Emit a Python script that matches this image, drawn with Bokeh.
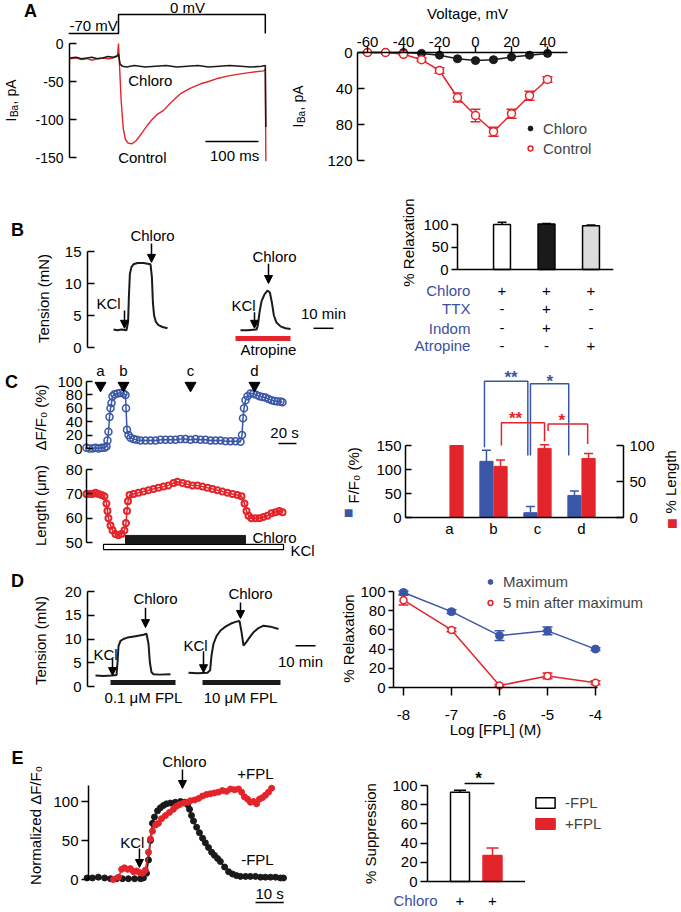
import math
from bokeh.plotting import figure
from bokeh.models import (Range1d, LinearAxis, Label, Arrow, NormalHead, Whisker, TeeHead,
                          ColumnDataSource, Legend, LegendItem, FixedTicker)
from bokeh.layouts import row, column
from bokeh.embed import file_html
from bokeh.resources import INLINE
from bokeh.core.properties import value

# ======================= DATA =======================
# A (left): Ba2+ current traces; time in ms, current in pA; voltage protocol in mV
a_prot_t = [-94, 0, 0, 277, 277]
a_prot_mv = [-70, -70, 0, 0, -70]
a_ctrl_t = [-92, -80, -70, -60, -50, -40, -30, -20, -10, -2, 0, 2, 5, 9, 13, 18, 25, 33, 42, 52,
            62, 72, 85, 100, 117, 135, 155, 170, 187, 205, 230, 250, 274, 277, 277.5, 278]
a_ctrl_pa = [-20, -19, -21, -20, -22, -20, -19, -20, -19, -17, 0, -30, -75, -112, -126, -131, -132, -128, -120, -110,
             -101, -94, -88, -77, -66, -59, -53, -50, -46, -43, -40, -38, -36, -34, -100, -155]
a_chl_t = [-92, -80, -70, -60, -50, -40, -30, -20, -10, -2, 0, 3, 8, 15, 30, 50, 70, 90, 110, 130,
           150, 170, 190, 210, 230, 250, 270, 277, 278]
a_chl_pa = [-19, -18, -20, -19, -18, -20, -19, -17, -18, -16, -14, -27, -30, -31, -29, -31, -30, -29, -31, -30,
            -29, -31, -30, -29, -30, -31, -30, -29, -110]

# A (right): I-V relation
iv_mv = [-60, -50, -40, -30, -20, -10, 0, 10, 20, 30, 40]
iv_chl = [0, 0, 0, 1, 3, 7, 9, 8, 5, 3, 1]
iv_chl_err = [0.5, 0.5, 0.5, 1, 1, 1.5, 1.5, 1.5, 1, 1, 1]
iv_ctrl = [0, 0, 2, 8, 20, 50, 70, 88, 68, 48, 30]
iv_ctrl_err = [0.5, 0.5, 1, 2, 3, 5, 7, 5, 5, 5, 3]

# B (left): tension traces; time in min, tension in mN
b1_t = [13, 15, 17, 19.5, 20.3, 20.7, 21.2, 22, 23, 25, 28, 31.5, 32.2, 32.7, 33.3, 34.2, 35.5, 37.5, 40]
b1_mn = [2.8, 2.7, 2.8, 2.7, 4, 8, 11.5, 12.6, 13.0, 13.2, 13.2, 13.0, 11, 7, 5, 4, 3.5, 3.2, 3.0]
b2_t = [76.5, 80, 84.5, 85.2, 86, 87, 88.5, 90, 91.2, 92.2, 93.2, 94.5, 96.5, 99, 101.5]
b2_mn = [2.7, 2.7, 2.8, 3.5, 5.5, 7.2, 8.3, 8.9, 8.6, 7, 5, 3.9, 3.3, 3.0, 2.9]

# B (right): % relaxation
b_bars = [1, 2, 3]
b_relax = [100, 101, 97]
b_relax_err = [5, 1, 2]
b_colors = ["white", "#1a1a1a", "#dcdcdc"]
b_rows = ["Chloro", "TTX", "Indom", "Atropine"]
b_signs = [["+", "+", "+"], ["-", "+", "-"], ["-", "+", "-"], ["-", "-", "+"]]

# C (left): Ca signal (dF/F0, %) and cell length (um) vs time (s)
c_f_t = [0, 3.3, 6.7, 10, 13.3, 16.7, 20, 22.2, 23.3, 24.4, 25.6, 26.7, 27.8, 28.9, 31.1, 34.4, 37.8, 41.1, 43.3, 43.9,
         45, 46.7, 48.9, 52.2, 55.6, 60, 65.6, 71.1, 76.7, 82.2, 87.8, 93.3, 98.9, 104.4, 110, 115.6, 121.1, 126.7,
         132.2, 137.8, 143.3, 148.9, 154.4, 160, 165.6, 171.1, 172.8, 173.9, 175, 176.7, 178.9, 182.2, 185.6, 188.9,
         192.2, 195.6, 198.9, 202.2, 205.6, 208.9, 212.2, 215.6, 217.8]
c_f_pct = [1, 0, 0, 1, 0, 1, 1, 3, 12, 25, 47, 60, 68, 78, 81, 82, 83, 82, 80, 60,
           28, 20, 16, 14, 13, 12, 12, 12, 12, 13, 13, 13, 13, 14, 14, 13, 14, 13,
           13, 12, 12, 12, 11, 11, 11, 10, 20, 45, 60, 72, 78, 82, 82, 80,
           78, 77, 76, 74, 72, 71, 70, 70, 69]
c_len_t = [0, 3.3, 6.7, 10, 13.3, 16.7, 20, 22.2, 23.3, 24.4, 26.7, 28.9, 32.2, 35.6, 38.9, 42.2, 43.9, 45, 46.1,
           47.8, 52.2, 57.8, 63.3, 68.9, 74.4, 80, 85.6, 91.1, 96.7, 101.1, 106.7, 112.2, 117.8, 123.3, 128.9,
           134.4, 140, 145.6, 151.1, 156.7, 162.2, 167.8, 172.2, 175.6, 177.8, 180, 183.3, 187.8, 192.2, 196.7,
           201.1, 205.6, 210, 214.4, 217.8]
c_len_um = [70, 70, 70, 70.5, 70, 69.5, 69, 66, 63, 60, 57, 55, 53.5, 53, 53.5, 55, 58, 63, 67,
            69.5, 70, 70.5, 71, 71.5, 72, 72.5, 73, 73.5, 74.5, 75, 74.5, 74, 73.5, 73.5, 73,
            72.5, 72, 71.5, 71, 70.5, 70, 69.5, 69, 66, 63, 61, 60, 60, 60, 60.5,
            61, 62, 62.5, 63, 62.5]
c_marks_t = [15.6, 41.1, 115.6, 186.7]
c_marks = ["a", "b", "c", "d"]
c_kcl = (18.9, 218.9)
c_chloro = (43.3, 176.7)

# C (right): summary bars
c_cat = [1, 2, 3, 4]
c_cat_lab = ["a", "b", "c", "d"]
c_f_cat = [2, 3, 4]
c_f_mean = [117, 10, 46]
c_f_err = [23, 13, 9]
c_len_mean = [100, 71, 96, 82]
c_len_err = [0, 9, 5, 7]

# D (left): tension traces with FPL
d1_t = [4, 8, 12, 14.5, 15, 15.5, 16.5, 18, 20, 24, 28, 29.5, 30.5, 31.2, 32, 33, 36, 41.5]
d1_mn = [2.3, 2.2, 2.3, 2.4, 5, 8.5, 9.6, 10.0, 10.3, 10.6, 10.9, 11.1, 9, 5, 3, 2.6, 2.5, 2.6]
d2_t = [50.5, 55, 60, 61.3, 62, 63, 64.5, 66.5, 69, 71.5, 74, 76, 77, 78, 79.5, 81.5, 83, 85.5, 88, 91.5, 95.5]
d2_mn = [2.9, 2.8, 2.9, 3.4, 6.5, 9.0, 10.6, 11.8, 12.6, 13.2, 13.6, 13.8, 11.5, 8.6, 9.4, 10.6, 11.4, 12.3, 12.8, 12.6, 12.1]

# D (right): relaxation vs log[FPL]
d_log = [-8, -7, -6, -5, -4]
d_max = [99, 79, 54, 59, 40]
d_max_err = [1.5, 2, 5, 4, 1.5]
d_after = [91, 60, 2, 12, 5]
d_after_err = [5, 2, 1, 3, 2]

# E (left): normalized dF/F0 traces (time, s)
e_m_t = [-0.5, 1.4, 3.5, 5.7, 7.8, 9.9, 12.0, 14.1, 16.3, 18.4, 19.4, 20.5, 21.2, 21.9, 22.6, 23.3, 24.4, 25.4, 26.5, 27.6,
         29.0, 30.7, 32.5, 33.9, 35.0, 35.7, 36.4, 37.1, 38.2, 39.2, 40.3, 41.3, 42.4, 43.5, 44.5, 45.6, 46.6, 48.1, 49.5,
         50.9, 52.3, 53.7, 55.5, 57.2, 59.0, 60.8, 62.5, 64.3, 66.1, 67.8, 68.9]
e_m_v = [2, 2, 3, 2, 1, 1, 1, 1, 1, 1, 2, 8, 25, 50, 72, 80, 88, 92, 95, 97,
         98, 99, 100, 99, 96, 90, 82, 75, 67, 60, 53, 47, 41, 35, 31, 27, 23, 16, 10,
         7, 5, 4, 4, 4, 4, 3, 3, 3, 3, 2, 2]
e_p_t = [8.8, 10.6, 11.7, 12.7, 13.8, 14.8, 15.9, 17.0, 18.0, 19.1, 20.1, 21.2, 21.9, 22.6, 23.7, 24.7, 25.8, 27.2,
         28.6, 30.0, 31.1, 32.2, 33.6, 35.0, 36.0, 37.5, 38.9, 40.3, 41.7, 43.1, 44.5, 45.9, 47.3, 48.8, 50.2, 51.6,
         53.0, 54.1, 55.1, 56.2, 57.2, 58.3, 59.4, 60.4, 61.5, 62.5, 63.6, 64.7]
e_p_v = [0, 3, 13, 15, 13, 14, 10, 11, 9, 8, 12, 35, 52, 62, 70, 72, 78, 82,
         86, 90, 94, 96, 98, 99, 101, 102, 104, 107, 109, 110, 111, 112, 114, 113, 116, 115,
         116, 112, 106, 103, 99, 100, 97, 103, 105, 108, 112, 117]

# E (right): % suppression
e_bars = [1, 2]
e_supp = [93, 27]
e_supp_err = [2, 8]

# ======================= STYLE / HELPERS =======================
FONT = "Liberation Sans"
RED = "#e3252b"
BLUE = "#3a56a6"
TBLUE = "#3b4fa1"
BLK = "#1a1a1a"
PI2 = math.pi / 2


def style_axis(ax, bounds, ticks, tin=0, tout=0, standoff=4, size=15, overrides=None):
    ax.bounds = bounds
    ax.ticker = FixedTicker(ticks=ticks)
    ax.major_tick_in = tin
    ax.major_tick_out = tout
    ax.minor_tick_line_color = None
    ax.major_label_standoff = standoff
    ax.major_label_text_font = FONT
    ax.major_label_text_font_size = f"{size}px"
    ax.major_label_text_color = "black"
    ax.axis_line_width = 1.5
    ax.axis_line_color = "black"
    ax.major_tick_line_width = 1.5
    ax.major_tick_line_color = "black" if (tin or tout) else None
    # plain hyphen-minus labels, as in the original figure
    ax.major_label_overrides = overrides if overrides else {t: str(t) for t in ticks}


class Panel:
    """A figure whose frame fills the whole figure; axes are drawn at fixed data locations."""

    def __init__(self, fx, fy, fw, fh, xm, ym):
        self.fl, self.ft, self.fb = fx, fy, fy + fh
        self.ax, self.bx = xm
        self.ay, self.by = ym
        self.p = figure(width=fw, height=fh, title=None,
                        x_range=Range1d(self.xd(fx), self.xd(fx + fw)),
                        y_range=Range1d(self.yd(fy + fh), self.yd(fy)),
                        x_axis_location=None, y_axis_location=None,
                        output_backend="svg", toolbar_location=None, min_border=0,
                        min_border_left=0, min_border_right=0, min_border_top=0, min_border_bottom=0)
        p = self.p
        p.outline_line_color = None
        p.grid.visible = False
        p.background_fill_color = "white"
        p.border_fill_color = "white"

    def xd(self, px):
        return (px - self.ax) / self.bx

    def yd(self, py):
        return (self.ay - py) / self.by

    def yaxis(self, px, bounds, ticks, side="left", y_range_name="default", **kw):
        a = LinearAxis(y_range_name=y_range_name, fixed_location=self.xd(px))
        style_axis(a, bounds, ticks, **kw)
        self.p.add_layout(a, side)
        return a

    def xaxis(self, py, bounds, ticks, side="below", **kw):
        a = LinearAxis(fixed_location=self.yd(py))
        style_axis(a, bounds, ticks, **kw)
        self.p.add_layout(a, side)
        return a

    def label(self, ix, iy, text, size=15, angle=0.0, align="center", baseline="middle",
              color="black", style="normal"):
        self.p.add_layout(Label(x=ix - self.fl, y=self.fb - iy, x_units="screen", y_units="screen",
                                text=text, angle=angle, text_align=align, text_baseline=baseline,
                                text_color=color, text_font=FONT, text_font_size=f"{size}px",
                                text_font_style=style))

    def text(self, xs, ys, texts, size=15, align="center", baseline="middle", color="black",
             y_range_name="default", style="normal"):
        self.p.text(x=xs, y=ys, text=texts, text_font=value(FONT), text_font_size=f"{size}px",
                    text_align=align, text_baseline=baseline, text_color=color,
                    text_font_style=style, y_range_name=y_range_name)

    def arrow(self, x, y0, y1):
        self.p.add_layout(Arrow(end=NormalHead(size=8, fill_color="black", line_color="black", line_width=1),
                                x_start=x, y_start=y0, x_end=x, y_end=y1,
                                line_width=1.5, line_color="black"))


def whisk(p, xs, lo, hi, color, size=10, y_range_name="default", lower=True):
    src = ColumnDataSource(dict(base=list(xs), lower=list(lo), upper=list(hi)))
    p.add_layout(Whisker(source=src, base="base", lower="lower", upper="upper", dimension="height",
                         line_color=color, line_width=1.5, y_range_name=y_range_name,
                         upper_head=TeeHead(size=size, line_color=color, line_width=1.5),
                         lower_head=TeeHead(size=size, line_color=color, line_width=1.5) if lower else None))


def iba_label(g, cx, ybottom, size):
    sub = round(size * 0.72)
    wI = 0.278 * size
    wBa = 1.223 * sub
    g.label(cx, ybottom, "I", size=size, angle=PI2, align="left")
    g.label(cx + 0.32 * size, ybottom - wI - 0.5, "Ba", size=sub, angle=PI2, align="left")
    g.label(cx, ybottom - wI - wBa - 1, ", pA", size=size, angle=PI2, align="left")


def pm(vals, errs, sign):
    return [v + sign * e for v, e in zip(vals, errs)]


# ======================= A left =======================
A = Panel(0, 0, 290, 178, (118, 0.53), (43, 0.76))
p = A.p
p.extra_y_ranges = {"v": Range1d((14 - 178) / 0.2714, (14 - 0) / 0.2714)}
p.line(a_prot_t, a_prot_mv, y_range_name="v", line_color="black", line_width=1.5)
p.line(a_ctrl_t, a_ctrl_pa, line_color=RED, line_width=1.4)
p.line(a_chl_t, a_chl_pa, line_color=BLK, line_width=1.6)
p.line([164, 264], [-129, -129], line_color="black", line_width=1.5)
A.text([-47, 130], [-40.5, 25.8], ["-70 mV", "0 mV"], y_range_name="v")
A.text([60, 45, 219], [-49, -150, -147], ["Chloro", "Control", "100 ms"])
A.yaxis(69, (-150, 0), [-150, -100, -50, 0], tin=7, standoff=6, size=14)
A.label(30, 10, "A", size=18, style="bold")
iba_label(A, 10, 121, 14)

# ======================= A right =======================
AR = Panel(290, 0, 391, 178, (475, 1.8), (52, -0.9))
p = AR.p
p.line(iv_mv, iv_chl, line_color=BLK, line_width=1.5)
whisk(p, iv_mv, pm(iv_chl, iv_chl_err, -1), pm(iv_chl, iv_chl_err, 1), BLK, size=8)
r_chl = p.scatter(iv_mv, iv_chl, marker="circle", size=8, fill_color=BLK, line_color=BLK)
p.line(iv_mv, iv_ctrl, line_color=RED, line_width=1.5)
whisk(p, iv_mv, pm(iv_ctrl, iv_ctrl_err, -1), pm(iv_ctrl, iv_ctrl_err, 1), RED, size=10)
r_ctl = p.scatter(iv_mv, iv_ctrl, marker="circle", size=8, fill_color="white", line_color=RED, line_width=1.5)
AR.xaxis(52, (AR.xd(357), AR.xd(567)), [-60, -40, -20, 0, 20, 40], side="above", tout=6, standoff=0)
AR.yaxis(357, (0, 120), [0, 40, 80, 120], tin=7, standoff=5)
leg = Legend(items=[LegendItem(label=value("Chloro"), renderers=[r_chl]),
                    LegendItem(label=value("Control"), renderers=[r_ctl])],
             location=(234, 20), orientation="vertical", glyph_width=12, glyph_height=20, label_height=20,
             label_standoff=7, spacing=0, padding=0, margin=0, border_line_color=None,
             background_fill_alpha=0, label_text_font=FONT, label_text_font_size="15px")
p.add_layout(leg)
AR.label(467, 13, "Voltage, mV")
iba_label(AR, 297, 127, 14)

# ======================= B left =======================
BL = Panel(0, 178, 350, 180, (87, 2.0), (347, 6.4))
p = BL.p
p.line(b1_t, b1_mn, line_color=BLK, line_width=2)
p.line(b2_t, b2_mn, line_color=BLK, line_width=2)
p.line([74, 101.5], [1.4, 1.4], line_color=RED, line_width=5)
p.line([113, 123], [3, 3], line_color="black", line_width=1.5)
BL.arrow(18.5, 5.8, 3.0)
BL.arrow(32, 16.25, 13.3)
BL.arrow(83.5, 5.5, 3.0)
BL.arrow(90.5, 13.1, 10.0)
BL.text([10.5, 32.5, 78, 93.5, 90.5, 118], [6.9, 17.5, 6.6, 14.2, -0.3, 5.3],
        ["KCl", "Chloro", "KCl", "Chloro", "Atropine", "10 min"])
BL.yaxis(87, (0, 15), [0, 5, 10, 15], tin=7, standoff=6)
BL.label(17, 229, "B", size=18, style="bold")
BL.label(43, 298, "Tension (mN)", angle=PI2)

# ======================= B right =======================
BR = Panel(350, 178, 331, 180, (457, 44.5), (269, 0.45))
p = BR.p
whisk(p, b_bars, pm(b_relax, b_relax_err, -1), pm(b_relax, b_relax_err, 1), "black", size=9)
p.vbar(x=b_bars, top=b_relax, width=0.38, fill_color=b_colors, line_color="black", line_width=1.5)
p.segment(x0=[0], y0=[0], x1=[3.5], y1=[0], line_color="black", line_width=1.5)
row_y = [-46.7, -86.7, -131, -169]
BR.text([0.29] * 4, row_y, b_rows, align="right", color=TBLUE)
for yy, signs in zip(row_y, b_signs):
    BR.text(b_bars, [yy] * 3, signs)
BR.yaxis(457, (0, 100), [0, 50, 100], tout=6, standoff=3)
BR.label(408, 242, "% Relaxation", angle=PI2)

# ======================= C left top =======================
CT = Panel(0, 358, 330, 97, (86, 0.9), (448, 0.67))
p = CT.p
p.line(c_f_t, c_f_pct, line_color=BLUE, line_width=1.5)
p.scatter(c_f_t, c_f_pct, marker="circle", size=7, fill_color=None, line_color=BLUE, line_width=1.5)
p.scatter(c_marks_t, [94] * 4, marker="inverted_triangle", size=11, fill_color="black", line_color="black")
CT.text(c_marks_t, [116] * 4, c_marks)
p.line([213.3, 233.3], [7.5, 7.5], line_color="black", line_width=1.5)
CT.text([220], [24], ["20 s"])
CT.yaxis(86, (0, 100), [0, 20, 40, 60, 80, 100], tin=6, standoff=4)
CT.label(11, 381, "C", size=18, style="bold")
CT.label(40, 417, "\u0394F/F\u2080 (%)", angle=PI2)

# ======================= C left bottom =======================
CB = Panel(0, 455, 330, 107, (86, 0.9), (663.5, 2.43))
p = CB.p
p.line(c_len_t, c_len_um, line_color=RED, line_width=1.5)
p.scatter(c_len_t, c_len_um, marker="circle", size=6, fill_color=None, line_color=RED, line_width=2)
p.quad(left=[c_kcl[0]], right=[c_kcl[1]], bottom=[47.1], top=[49.2], fill_color="white",
       line_color="black", line_width=1.2)
p.quad(left=[c_chloro[0]], right=[c_chloro[1]], bottom=[49.6], top=[52.9], fill_color=BLK,
       line_color=BLK, line_width=1)
CB.text([208.9, 240], [52.1, 46.7], ["Chloro", "KCl"])
CB.yaxis(86, (50, 80), [50, 60, 70, 80], tin=6, standoff=4)
CB.label(40, 505, "Length (\u03bcm)", angle=PI2)

# ======================= C right =======================
CR = Panel(330, 358, 351, 204, (405, 44), (517, 0.48))
p = CR.p
p.extra_y_ranges = {"len": Range1d((517 - 562) / 0.72, (517 - 358) / 0.72)}
fx = [c - 0.16 for c in c_f_cat]
lx = [c + 0.16 for c in c_cat]
whisk(p, fx, c_f_mean, pm(c_f_mean, c_f_err, 1), BLUE, size=9, lower=False)
p.vbar(x=fx, top=c_f_mean, width=0.3, fill_color=BLUE, line_color=BLUE)
whisk(p, lx[1:], c_len_mean[1:], pm(c_len_mean[1:], c_len_err[1:], 1), RED, size=9,
      y_range_name="len", lower=False)
p.vbar(x=lx, top=c_len_mean, width=0.3, fill_color=RED, line_color=RED, y_range_name="len")
p.multi_line(xs=[[1.795, 1.795, 2.78, 2.78], [2.84, 2.84, 3.71, 3.71]],
             ys=[[146.5, 284, 284, 129], [129, 278.5, 278.5, 129]], line_color=BLUE, line_width=1.5)
p.multi_line(xs=[[2.18, 2.18, 3.16, 3.16], [3.24, 3.24, 4.14, 4.14]],
             ys=[[100, 131.5, 131.5, 106], [120, 130, 130, 102]], line_color=RED, line_width=1.5,
             y_range_name="len")
CR.text([2.40, 3.28], [291.7, 283.3], ["**", "*"], size=17, color=BLUE, style="bold")
CR.text([2.50, 3.55], [137.5, 134.7], ["**", "*"], size=17, color=RED, style="bold", y_range_name="len")
CR.xaxis(517, (CR.xd(405), CR.xd(623)), c_cat, standoff=2,
         overrides={c: l for c, l in zip(c_cat, c_cat_lab)})
CR.yaxis(405, (0, 150), [0, 50, 100, 150], tin=6, standoff=4)
CR.yaxis(623, (0, 100), [0, 50, 100], side="right", y_range_name="len", tin=7, standoff=6)
CR.label(353, 503, "F/F\u2080 (%)", angle=PI2, align="left")
CR.label(348, 512, "\u25a0", size=16, color=BLUE)
CR.label(670, 513, "% Length", angle=PI2, align="left")
CR.label(672, 522, "\u25a0", size=18, color=RED)

# ======================= D left =======================
DL = Panel(0, 562, 330, 180, (87, 2.0), (686, 4.75))
p = DL.p
p.line(d1_t, d1_mn, line_color=BLK, line_width=2)
p.line(d2_t, d2_mn, line_color=BLK, line_width=2)
p.line([11.5, 44], [0.84, 0.84], line_color=BLK, line_width=5)
p.line([57.5, 96.5], [0.84, 0.84], line_color=BLK, line_width=5)
p.line([104, 114], [8.6, 8.6], line_color="black", line_width=1.5)
DL.arrow(12.5, 5.9, 2.3)
DL.arrow(29, 16.6, 12.4)
DL.arrow(58, 7.4, 2.9)
DL.arrow(76.5, 17.7, 14.3)
DL.text([9, 34, 54, 81.5, 106.5, 28, 76.5], [6.7, 18.5, 8.6, 19.6, 5.3, -2.3, -2.3],
        ["KCl", "Chloro", "KCl", "Chloro", "10 min", "0.1 \u03bcM FPL", "10 \u03bcM FPL"])
DL.yaxis(87, (0, 20), [0, 5, 10, 15, 20], tin=7, standoff=6)
DL.label(17, 580, "D", size=18, style="bold")
DL.label(40, 640, "Tension (mN)", angle=PI2)

# ======================= D right =======================
DR = Panel(330, 562, 351, 180, (787, 48), (687, 0.96))
p = DR.p
p.line(d_log, d_max, line_color=BLUE, line_width=1.5)
whisk(p, d_log, pm(d_max, d_max_err, -1), pm(d_max, d_max_err, 1), BLUE, size=10)
r_max = p.scatter(d_log, d_max, marker="circle", size=8, fill_color=BLUE, line_color=BLUE)
p.line(d_log, d_after, line_color=RED, line_width=1.5)
whisk(p, d_log, pm(d_after, d_after_err, -1), pm(d_after, d_after_err, 1), RED, size=10)
r_aft = p.scatter(d_log, d_after, marker="circle", size=7, fill_color="white", line_color=RED, line_width=1.5)
DR.xaxis(687, (DR.xd(393), DR.xd(597)), d_log, tout=8, standoff=14)
DR.yaxis(393, (0, 100), [0, 20, 40, 60, 80, 100], tout=5, standoff=3)
leg = Legend(items=[LegendItem(label=value("Maximum"), renderers=[r_max]),
                    LegendItem(label=value("5 min after maximum"), renderers=[r_aft])],
             location=(154, 129.5), orientation="vertical", glyph_width=12, glyph_height=21, label_height=21,
             label_standoff=7, spacing=0, padding=0, margin=0, border_line_color=None,
             background_fill_alpha=0, label_text_font=FONT, label_text_font_size="15px")
p.add_layout(leg)
DR.label(495, 729, "Log [FPL] (M)")
DR.label(348, 638, "% Relaxation", angle=PI2)

# ======================= E left =======================
EL = Panel(0, 742, 330, 169, (88, 2.83), (879, 0.78))
p = EL.p
p.line(e_m_t, e_m_v, line_color=BLK, line_width=1.5)
p.scatter(e_m_t, e_m_v, marker="circle", size=6, fill_color=BLK, line_color=BLK)
p.line(e_p_t, e_p_v, line_color=RED, line_width=1.5)
p.scatter(e_p_t, e_p_v, marker="circle", size=6, fill_color=RED, line_color=RED)
p.line([59, 69], [-29.5, -29.5], line_color="black", line_width=1.5)
EL.arrow(18.0, 39.7, 15.4)
EL.arrow(33.2, 141, 116.7)
EL.text([15.5, 33.9, 59.0, 59.7, 64], [47.4, 151, 136, 25.6, -18], ["KCl", "Chloro", "+FPL", "-FPL", "10 s"])
EL.yaxis(88, (0, 120.5), [0, 50, 100], tout=7, standoff=3)
EL.label(17, 757, "E", size=18, style="bold")
EL.label(35, 825, "Normalized \u0394F/F\u2080", angle=PI2)

# ======================= E right =======================
ER = Panel(330, 742, 351, 169, (427, 32.5), (881, 0.96))
p = ER.p
whisk(p, [e_bars[0]], [e_supp[0] - e_supp_err[0]], [e_supp[0] + e_supp_err[0]], "black", size=12)
whisk(p, [e_bars[1]], [e_supp[1]], [e_supp[1] + e_supp_err[1]], RED, size=12, lower=False)
r_m = p.vbar(x=[e_bars[0]], top=[e_supp[0]], width=0.585, fill_color="white", line_color="black", line_width=1.5)
r_p = p.vbar(x=[e_bars[1]], top=[e_supp[1]], width=0.585, fill_color=RED, line_color=RED, line_width=1.5)
p.segment(x0=[0], y0=[0], x1=[3.0], y1=[0], line_color="black", line_width=1.5)
p.segment(x0=[1.14], y0=[102], x1=[2.06], y1=[102], line_color="black", line_width=1.5)
ER.text([1.57], [107.3], ["*"], size=17, style="bold")
ER.text([0.31], [-20.3], ["Chloro"], align="right", color=TBLUE)
ER.text(e_bars, [-20.3, -20.3], ["+", "+"])
ER.yaxis(427, (0, 100), [0, 20, 40, 60, 80, 100], tout=7, standoff=3)
leg = Legend(items=[LegendItem(label=value("-FPL"), renderers=[r_m]),
                    LegendItem(label=value("+FPL"), renderers=[r_p])],
             location=(203, 79.5), orientation="vertical", glyph_width=24, glyph_height=13, label_height=13,
             label_standoff=8, spacing=4, padding=0, margin=0, border_line_color=None,
             background_fill_alpha=0, label_text_font=FONT, label_text_font_size="15px")
p.add_layout(leg)
ER.label(370, 833, "% Suppression", angle=PI2)

# ======================= LAYOUT =======================
layout = column(row(A.p, AR.p), row(BL.p, BR.p), row(column(CT.p, CB.p), CR.p),
                row(DL.p, DR.p), row(EL.p, ER.p))
open("out.html", "w").write(file_html(layout, INLINE))
